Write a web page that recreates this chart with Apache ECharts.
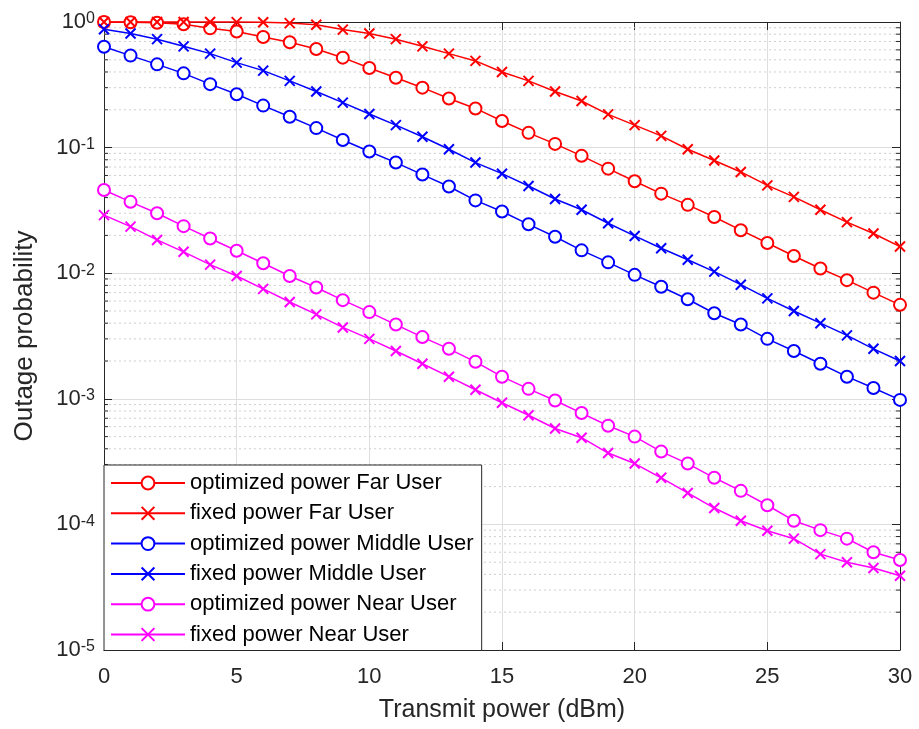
<!DOCTYPE html>
<html>
<head>
<meta charset="utf-8">
<script src="https://cdn.jsdelivr.net/npm/echarts@6/dist/echarts.min.js"></script>
<style>
  html, body { margin: 0; padding: 0; background: #fff; }
  #chart { width: 919px; height: 729px; }
</style>
</head>
<body>
<div id="chart"></div>
<script>
// transmit power (dBm)
const power = [0, 1, 2, 3, 4, 5, 6, 7, 8, 9, 10, 11, 12, 13, 14, 15, 16, 17, 18, 19, 20, 21, 22, 23, 24, 25, 26, 27, 28, 29, 30];

// outage probability
const farOpt = [0.999, 0.995, 0.985, 0.96, 0.89, 0.84, 0.76, 0.69, 0.61, 0.52, 0.43, 0.36, 0.30, 0.246, 0.205, 0.163, 0.131, 0.107, 0.086, 0.068, 0.054, 0.043, 0.035, 0.028, 0.022, 0.0174, 0.0137, 0.0109, 0.0088, 0.0070, 0.0056];
const farFix = [1.0, 1.0, 1.0, 1.0, 0.999, 0.998, 0.995, 0.98, 0.95, 0.87, 0.81, 0.73, 0.64, 0.56, 0.49, 0.40, 0.34, 0.28, 0.235, 0.184, 0.151, 0.124, 0.097, 0.079, 0.064, 0.050, 0.0405, 0.032, 0.0255, 0.0207, 0.0163];
const midOpt = [0.636, 0.54, 0.46, 0.39, 0.32, 0.266, 0.216, 0.176, 0.143, 0.115, 0.093, 0.076, 0.061, 0.049, 0.038, 0.031, 0.0245, 0.0195, 0.0152, 0.0122, 0.0097, 0.0078, 0.0062, 0.0048, 0.0039, 0.0030, 0.0024, 0.0019, 0.0015, 0.00122, 0.00098];
const midFix = [0.875, 0.81, 0.73, 0.64, 0.56, 0.475, 0.41, 0.34, 0.28, 0.228, 0.185, 0.151, 0.122, 0.097, 0.076, 0.062, 0.0495, 0.039, 0.032, 0.025, 0.0198, 0.0158, 0.0128, 0.0103, 0.0081, 0.0063, 0.0050, 0.0040, 0.0032, 0.0025, 0.0020];
const nearOpt = [0.046, 0.037, 0.030, 0.0237, 0.0189, 0.0151, 0.0120, 0.0095, 0.0077, 0.0061, 0.0049, 0.0039, 0.0031, 0.0025, 0.00197, 0.0015, 0.00120, 0.00097, 0.00077, 0.00061, 0.00050, 0.00038, 0.000305, 0.000235, 0.000185, 0.000142, 0.000107, 0.000090, 0.000077, 0.000060, 0.000052];
const nearFix = [0.029, 0.0235, 0.0184, 0.0148, 0.0117, 0.0095, 0.0075, 0.0059, 0.0047, 0.0037, 0.0030, 0.0024, 0.0019, 0.0015, 0.00118, 0.00093, 0.00074, 0.00058, 0.00049, 0.00037, 0.000305, 0.000235, 0.000178, 0.000135, 0.000107, 0.000089, 0.000077, 0.000058, 0.000050, 0.000045, 0.000039];

const seriesNames = ['optimized power Far User', 'fixed power Far User', 'optimized power Middle User', 'fixed power Middle User', 'optimized power Near User', 'fixed power Near User'];

// y ticks: decades, minor grid at 2..9 within each decade
const decades = [1e-5, 1e-4, 1e-3, 1e-2, 1e-1, 1];
const minorSteps = [2, 3, 4, 5, 6, 7, 8, 9];

const FONT = '"Liberation Sans", Arial, Helvetica, sans-serif';
const AXIS_COLOR = '#262626';
const CROSS = 'emptyPath://M0,0L10,10M0,10L10,0';

const minorValues = [];
decades.slice(0, -1).forEach(d => minorSteps.forEach(s => minorValues.push([0, +(d * s).toPrecision(3)])));

function pairs(ys) {
  return power.map((x, i) => [x, ys[i]]);
}

function lineSeries(name, ys, color, marker) {
  const isCircle = marker === 'o';
  return {
    name: name,
    type: 'line',
    data: pairs(ys),
    xAxisIndex: 0,
    yAxisIndex: 0,
    clip: false,
    z: 3,
    symbol: isCircle ? 'emptyCircle' : CROSS,
    symbolSize: isCircle ? 12 : 10,
    showAllSymbol: true,
    lineStyle: { color: color, width: 1.5 },
    itemStyle: { color: color, borderColor: color, borderWidth: 1.5 },
    emphasis: { disabled: true },
    animation: false
  };
}

function supLabel(value) {
  const e = Math.round(Math.log10(value));
  return '{b|10}{s|' + e + '}';
}

const chart = echarts.init(document.getElementById('chart'));

const option = {
  backgroundColor: '#fff',
  animation: false,
  grid: { left: 104, top: 22, width: 796, height: 628, containLabel: false },
  legend: {
    data: seriesNames,
    orient: 'vertical',
    left: 104,
    top: 465,
    padding: [7, 8, 5, 6],
    itemWidth: 74,
    itemHeight: 16,
    itemGap: 8.3,
    backgroundColor: '#fff',
    borderColor: AXIS_COLOR,
    borderWidth: 1,
    borderRadius: 0,
    selectedMode: false,
    textStyle: { fontFamily: FONT, fontSize: 22, color: '#000' }
  },
  xAxis: [
    {
      type: 'value',
      min: 0, max: 30, interval: 5,
      name: 'Transmit power (dBm)',
      nameLocation: 'middle',
      nameGap: 48,
      nameTextStyle: { fontFamily: FONT, fontSize: 25, color: AXIS_COLOR },
      axisLine: { show: true, lineStyle: { color: AXIS_COLOR, width: 1 } },
      axisTick: { show: true, inside: true, length: 8, lineStyle: { color: AXIS_COLOR } },
      axisLabel: { fontFamily: FONT, fontSize: 22, color: AXIS_COLOR, margin: 16 },
      splitLine: { show: true, lineStyle: { color: '#dedede', width: 1 } }
    },
    {
      type: 'value',
      position: 'top',
      min: 0, max: 30, interval: 5,
      axisLine: { show: true, onZero: false, lineStyle: { color: AXIS_COLOR, width: 1 } },
      axisTick: { show: true, inside: true, length: 8, lineStyle: { color: AXIS_COLOR } },
      axisLabel: { show: false },
      splitLine: { show: false }
    }
  ],
  yAxis: [
    {
      type: 'log',
      logBase: 10,
      min: 1e-5, max: 1,
      splitNumber: 5,
      name: 'Outage probability',
      nameLocation: 'middle',
      nameGap: 66,
      nameTextStyle: { fontFamily: FONT, fontSize: 26, color: AXIS_COLOR },
      axisLine: { show: true, onZero: false, lineStyle: { color: AXIS_COLOR, width: 1 } },
      axisTick: { show: true, inside: true, length: 8, lineStyle: { color: AXIS_COLOR } },
      axisLabel: {
        margin: 9,
        formatter: supLabel,
        rich: {
          b: { fontFamily: FONT, fontSize: 22, lineHeight: 22, color: AXIS_COLOR, padding: [7, 0, 0, 0], verticalAlign: 'bottom' },
          s: { fontFamily: FONT, fontSize: 16, lineHeight: 16, color: AXIS_COLOR, verticalAlign: 'top' }
        }
      },
      splitLine: { show: true, lineStyle: { color: '#dedede', width: 1 } }
    },
    {
      type: 'log',
      logBase: 10,
      position: 'right',
      min: 1e-5, max: 1,
      splitNumber: 5,
      axisLine: { show: true, onZero: false, lineStyle: { color: AXIS_COLOR, width: 1 } },
      axisTick: { show: true, inside: true, length: 8, lineStyle: { color: AXIS_COLOR } },
      axisLabel: { show: false },
      splitLine: { show: false }
    }
  ],
  series: [
    {
      // dotted minor grid + small minor ticks on both sides
      type: 'custom',
      xAxisIndex: 0,
      yAxisIndex: 0,
      silent: true,
      z: 1,
      data: minorValues,
      renderItem: function (params, api) {
        const v = api.value(1);
        const a = api.coord([0, v]);
        const b = api.coord([30, v]);
        return {
          type: 'group',
          children: [
            { type: 'line', shape: { x1: a[0], y1: a[1], x2: b[0], y2: b[1] }, style: { stroke: '#cfcfcf', lineWidth: 1, lineDash: [2, 3] } },
            { type: 'line', shape: { x1: a[0], y1: a[1], x2: a[0] + 4, y2: a[1] }, style: { stroke: AXIS_COLOR, lineWidth: 1 } },
            { type: 'line', shape: { x1: b[0] - 4, y1: b[1], x2: b[0], y2: b[1] }, style: { stroke: AXIS_COLOR, lineWidth: 1 } }
          ]
        };
      },
      animation: false
    },
    lineSeries(seriesNames[0], farOpt, '#ff0000', 'o'),
    lineSeries(seriesNames[1], farFix, '#ff0000', 'x'),
    lineSeries(seriesNames[2], midOpt, '#0000ff', 'o'),
    lineSeries(seriesNames[3], midFix, '#0000ff', 'x'),
    lineSeries(seriesNames[4], nearOpt, '#ff00ff', 'o'),
    lineSeries(seriesNames[5], nearFix, '#ff00ff', 'x')
  ]
};

chart.setOption(option);
</script>
</body>
</html>
